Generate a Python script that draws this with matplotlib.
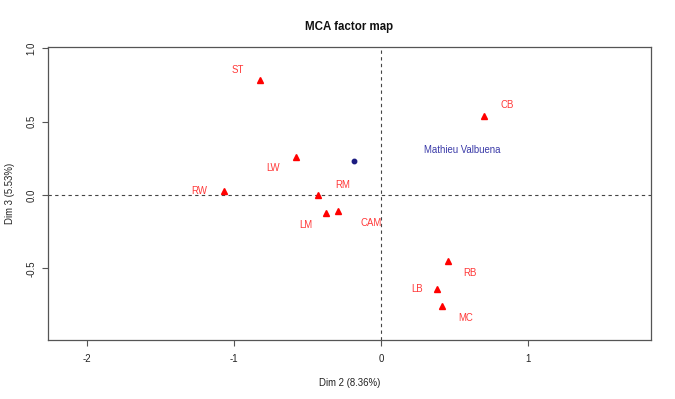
import numpy as np
import matplotlib
matplotlib.use('Agg')
import matplotlib.pyplot as plt

plt.rcParams['font.family'] = ['Liberation Sans', 'DejaVu Sans']

# category coordinates (Dim 2, Dim 3)
categories = ['ST', 'CB', 'LW', 'RW', 'RM', 'LM', 'CAM', 'RB', 'LB', 'MC']
dim2 = [-0.823, 0.700, -0.580, -1.066, -0.426, -0.372, -0.295, 0.458, 0.383, 0.413]
dim3 = [0.784, 0.539, 0.261, 0.029, 0.000, -0.125, -0.109, -0.452, -0.639, -0.759]

# individual
ind_name = 'Mathieu Valbuena'
ind_dim2 = -0.181
ind_dim3 = 0.232

# label offsets in pixels (layout only)
cat_offsets = [(-22, 10), (23, 11), (-23, -11), (-25, 0), (24, 10),
               (-21, -12), (33, -12), (22, -12), (-20, 0), (24, -12)]
ind_offset = (108, 11)

fig = plt.figure(figsize=(6.75, 3.99), dpi=100)
ax = fig.add_axes([47.7 / 675, 1 - 340 / 399, (650.7 - 47.7) / 675, (340 - 46.7) / 399])

ax.axhline(0, color='#444444', lw=0.8, ls=(0, (3, 3)), zorder=1)
ax.axvline(0, color='#444444', lw=0.8, ls=(0, (3, 3)), zorder=1)

ax.plot(dim2, dim3, ls='none', marker='^', ms=4.5, color='red', mec='red', zorder=3)
for name, x, y, off in zip(categories, dim2, dim3, cat_offsets):
    ax.annotate(name, (x, y), xytext=off, textcoords='offset pixels',
                ha='center', va='center', color='#ff3838', fontsize=6.9)

ax.plot([ind_dim2], [ind_dim3], ls='none', marker='o', ms=3.2, color='#1c1c80', zorder=3)
ax.annotate(ind_name, (ind_dim2, ind_dim3), xytext=ind_offset, textcoords='offset pixels',
            ha='center', va='center', color='#3a3aa8', fontsize=6.9)

ax.set_xlim(-2.268, 1.835)
ax.set_ylim(-0.988, 1.011)
ax.set_xticks([-2, -1, 0, 1])
ax.set_xticklabels(['-2', '-1', '0', '1'])
ax.set_yticks([-0.5, 0.0, 0.5, 1.0])
ax.set_yticklabels(['-0.5', '0.0', '0.5', '1.0'], rotation=90, va='center')

for s in ax.spines.values():
    s.set_color('#555555')
    s.set_linewidth(0.9)
ax.tick_params(direction='out', length=4.5, width=0.8, color='#555555',
               labelsize=6.9, labelcolor='#222222')
ax.tick_params(axis='x', pad=5.5)
ax.tick_params(axis='y', pad=3.5)

ax.set_xlabel('Dim 2 (8.36%)', fontsize=6.9, color='#222222', labelpad=10)
ax.set_ylabel('Dim 3 (5.53%)', fontsize=6.9, color='#222222', labelpad=8)
ax.set_title('MCA factor map', fontsize=8.3, fontweight='bold', color='#111111', pad=12)

fig.savefig('out.png', dpi=100)
